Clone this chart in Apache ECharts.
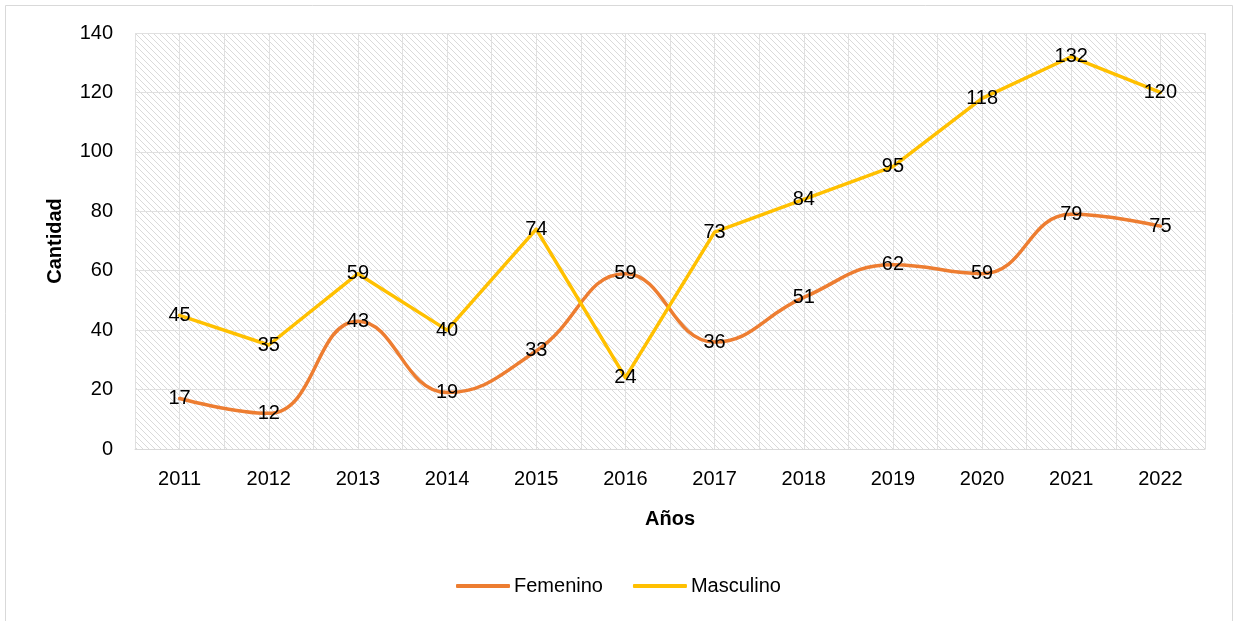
<!DOCTYPE html>
<html>
<head>
<meta charset="utf-8">
<script src="https://cdn.jsdelivr.net/npm/echarts@6/dist/echarts.min.js"></script>
<style>
  html, body { margin: 0; padding: 0; background: #fff; }
  #chart { width: 1237px; height: 621px; }
</style>
</head>
<body>
<div id="chart"></div>
<script>
const years = ['2011', '2012', '2013', '2014', '2015', '2016', '2017', '2018', '2019', '2020', '2021', '2022'];
const femenino = [17, 12, 43, 19, 33, 59, 36, 51, 62, 59, 79, 75];
const masculino = [45, 35, 59, 40, 74, 24, 73, 84, 95, 118, 132, 120];

// diagonal hatch for the plot area
const makeHatch = () => {
  const size = 6;
  const cv = document.createElement('canvas');
  cv.width = size;
  cv.height = size;
  const ctx = cv.getContext('2d');
  ctx.fillStyle = '#ffffff';
  ctx.fillRect(0, 0, size, size);
  ctx.strokeStyle = '#dadada';
  ctx.lineWidth = 1;
  ctx.beginPath();
  ctx.moveTo(-1, -1);
  ctx.lineTo(size + 1, size + 1);
  ctx.moveTo(-1, size - 1);
  ctx.lineTo(1, size + 1);
  ctx.moveTo(size - 1, -1);
  ctx.lineTo(size + 1, 1);
  ctx.stroke();
  return cv;
};

const font = '"Liberation Sans", Arial, sans-serif';
const chart = echarts.init(document.getElementById('chart'));

const labelStyle = {
  show: true,
  position: 'inside',
  color: '#000',
  fontSize: 20,
  fontFamily: font,
};

const option = {
  animation: false,
  textStyle: { fontFamily: font },
  graphic: [{
    type: 'rect',
    shape: { x: 5.5, y: 5.5, width: 1227, height: 630 },
    style: { fill: 'none', stroke: '#d9d9d9', lineWidth: 1 },
    silent: true,
  }],
  grid: {
    left: 135,
    right: 32,
    top: 33,
    bottom: 172,
    show: true,
    borderWidth: 0,
    backgroundColor: { image: makeHatch(), repeat: 'repeat' },
  },
  legend: {
    bottom: 20,
    left: 'center',
    icon: 'roundRect',
    itemWidth: 54,
    itemHeight: 4,
    itemGap: 30,
    textStyle: { fontSize: 20, color: '#000', fontFamily: font, padding: [0, 0, 0, -1] },
    data: ['Femenino', 'Masculino'],
  },
  xAxis: [
    {
      type: 'category',
      data: years,
      boundaryGap: true,
      name: 'Años',
      nameLocation: 'middle',
      nameGap: 60,
      nameTextStyle: { fontSize: 20, fontWeight: 'bold', color: '#000' },
      axisLine: { lineStyle: { color: '#d9d9d9', width: 1 } },
      axisTick: { show: false },
      axisLabel: { fontSize: 20, color: '#000', margin: 20 },
      splitLine: { show: false },
    },
    {
      type: 'value',
      min: 0,
      max: 24,
      interval: 1,
      show: true,
      axisLine: { show: false },
      axisTick: { show: false },
      axisLabel: { show: false },
      splitLine: { show: true, lineStyle: { color: '#e0e0e0', width: 1 } },
    },
  ],
  yAxis: {
    type: 'value',
    min: 0,
    max: 140,
    interval: 20,
    name: 'Cantidad',
    nameLocation: 'middle',
    nameGap: 70,
    nameRotate: 90,
    nameTextStyle: { fontSize: 20, fontWeight: 'bold', color: '#000' },
    axisLine: { show: false },
    axisTick: { show: false },
    axisLabel: { fontSize: 20, color: '#000', margin: 22 },
    splitLine: { lineStyle: { color: '#e0e0e0', width: 1 } },
  },
  series: [
    {
      name: 'Femenino',
      type: 'line',
      data: femenino,
      smooth: 0.45,
      symbol: 'circle',
      symbolSize: 2,
      color: '#ED7D31',
      lineStyle: { width: 3.5, color: '#ED7D31', cap: 'round' },
      label: labelStyle,
      z: 3,
    },
    {
      name: 'Masculino',
      type: 'line',
      data: masculino,
      symbol: 'circle',
      symbolSize: 2,
      color: '#FFC000',
      lineStyle: { width: 3.5, color: '#FFC000', cap: 'round', join: 'round' },
      label: labelStyle,
      z: 4,
    },
  ],
};

chart.setOption(option);
</script>
</body>
</html>
